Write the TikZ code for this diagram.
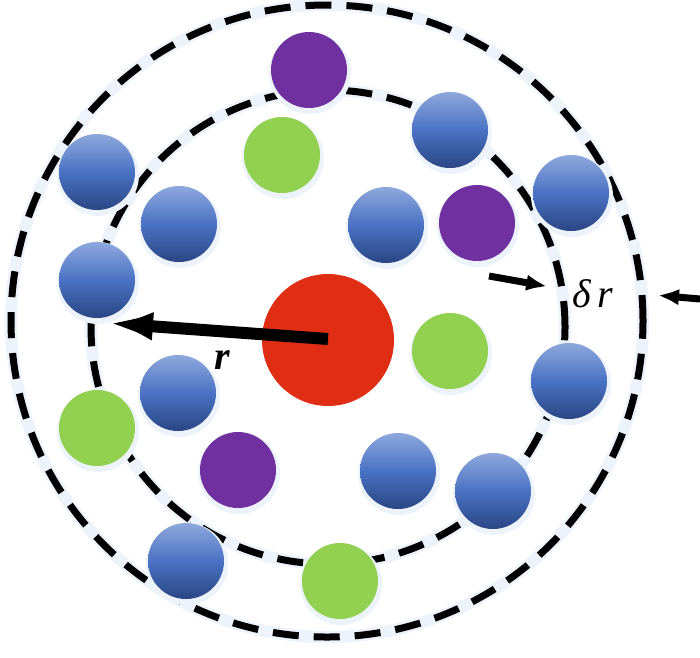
\documentclass[tikz,border=0pt]{standalone}
\usepackage{fontspec}
\setmainfont{Liberation Serif}
\usetikzlibrary{arrows.meta}
\definecolor{bluetop}{RGB}{142,168,220}
\definecolor{bluemid}{RGB}{74,114,196}
\definecolor{bluebot}{RGB}{42,70,132}
\definecolor{purp}{RGB}{112,48,160}
\definecolor{grn}{RGB}{146,208,80}
\definecolor{redc}{RGB}{224,46,20}
\definecolor{glow}{RGB}{236,243,251}
\begin{document}
\begin{tikzpicture}[x=1pt,y=-1pt,
  ball/.style={circle, inner sep=0pt, minimum size=76pt},
  bball/.style={ball, top color=bluetop, bottom color=bluebot, middle color=bluemid},
  pball/.style={ball, fill=purp},
  gball/.style={ball, fill=grn},
  halo/.style={circle, inner sep=0pt, minimum size=82pt, fill=glow},
  ring/.style={line width=7pt, dash pattern=on 26pt off 15pt},
  ringglow/.style={line width=12pt, draw=glow},
  bigarrow/.style={line width=12pt, -{Latex[length=60pt,width=26pt]}},
  smallarrow/.style={line width=7pt, -{Latex[length=36pt,width=14pt]}},
  lab/.style={font=\fontsize{40}{46}\selectfont\itshape, inner sep=0pt}]
\useasboundingbox (0,0) rectangle (700,657);
% ring centres
\coordinate (oc) at (327,321);
\coordinate (ic) at (328,327);
% glow under rings
\draw[ringglow] (oc) circle[radius=316pt];
\draw[ringglow] (ic) circle[radius=237pt];
\draw[ring] (oc) circle[radius=316pt];
\draw[ring] (ic) circle[radius=237pt];
% halos
\foreach \p in {(310,73),(283,158),(451,133),(98,175),(180,227),(387,228),(478,226),(572,196),
  (98,283),(451,354),(179,396),(570,384),(98,431),(239,473),(399,474),(494,494),(187,564),(341,584)}
  \node[halo] at \p {};
% balls
\node[pball] (p1) at (309,70) {};
\node[gball] (g1) at (282,155) {};
\node[bball] (b1) at (450,130) {};
\node[bball] (b2) at (97,172) {};
\node[bball] (b3) at (179,224) {};
\node[bball] (b4) at (386,225) {};
\node[pball] (p2) at (477,223) {};
\node[bball] (b5) at (571,193) {};
\node[bball] (b6) at (97,280) {};
\node[gball] (g2) at (450,351) {};
\node[bball] (b7) at (178,393) {};
\node[bball] (b8) at (569,381) {};
\node[gball] (g3) at (97,428) {};
\node[pball] (p3) at (238,470) {};
\node[bball] (b9) at (398,471) {};
\node[bball] (b10) at (493,491) {};
\node[bball] (b11) at (186,561) {};
\node[gball] (g4) at (340,581) {};
% central red ball
\node[circle, inner sep=0pt, minimum size=132pt, fill=redc] (red) at (328,340) {};
% radius arrow
\coordinate (rtail) at (328,339);
\coordinate (rtip) at (93,322);
\draw[bigarrow] (rtail) -- (rtip);
\node[lab, font=\fontsize{40}{46}\selectfont\bfseries\itshape] (rlab) at (222,360) {r};
% delta r arrows
\coordinate (la) at (489,276);
\coordinate (lb) at (562,289);
\coordinate (ra) at (700,299);
\coordinate (rb) at (643,294);
\draw[smallarrow] (la) -- (lb);
\draw[smallarrow] (ra) -- (rb);
\node[lab] (dr) at (593,294) {δ\,r};
\end{tikzpicture}
\end{document}
